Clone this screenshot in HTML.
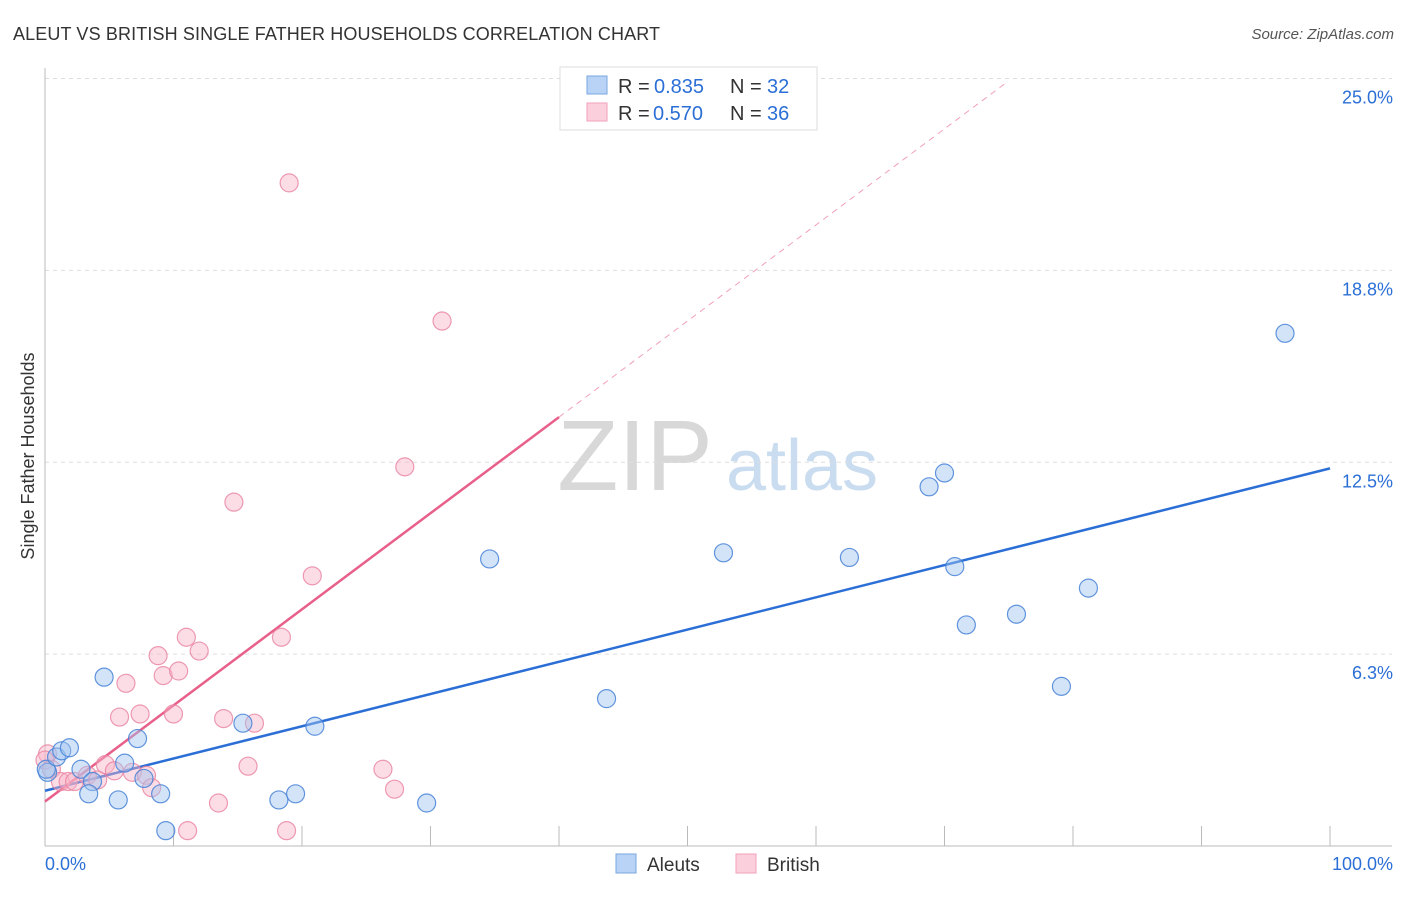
<!DOCTYPE html>
<html><head><meta charset="utf-8"><style>
body{margin:0;background:#fff;font-family:"Liberation Sans",sans-serif}
svg text{font-family:"Liberation Sans",sans-serif}
</style></head><body>
<svg id="c" width="1406" height="892" xmlns="http://www.w3.org/2000/svg">
<text x="13" y="40" font-size="18" fill="#333" textLength="647">ALEUT VS BRITISH SINGLE FATHER HOUSEHOLDS CORRELATION CHART</text>
<text x="1394" y="39" font-size="15" fill="#555" font-style="italic" text-anchor="end">Source: ZipAtlas.com</text>
<text x="34" y="456" font-size="18" fill="#333" text-anchor="middle" transform="rotate(-90 34 456)">Single Father Households</text>
<g><text x="635" y="490" font-size="100" fill="#d8d8d8" font-family="Liberation Serif" text-anchor="middle">ZIP</text><text x="802" y="490" font-size="72" fill="#c9dcf0" text-anchor="middle">atlas</text></g>
<g id="grid"></g><g id="axes"></g><g id="lines"></g><g id="pts"></g>
<g>
<rect x="560" y="67" width="257" height="63" fill="#fff" stroke="#ddd"/>
<rect x="587" y="76" width="20" height="18" fill="#b8d3f5" stroke="#7aa7e0"/>
<text x="618" y="93" font-size="20" fill="#333">R =</text><text x="654" y="93" font-size="20" fill="#2b6fd6">0.835</text>
<text x="730" y="93" font-size="20" fill="#333">N =</text><text x="767" y="93" font-size="20" fill="#2b6fd6">32</text>
<rect x="587" y="103" width="20" height="18" fill="#fbd0dc" stroke="#f0a0b8"/>
<text x="618" y="120" font-size="20" fill="#333">R =</text><text x="653" y="120" font-size="20" fill="#2b6fd6">0.570</text>
<text x="730" y="120" font-size="20" fill="#333">N =</text><text x="767" y="120" font-size="20" fill="#2b6fd6">36</text>
</g>
<g>
<rect x="616" y="854" width="20" height="19" fill="#b8d3f5" stroke="#7aa7e0"/><text x="647" y="871" font-size="19" fill="#333">Aleuts</text>
<rect x="736" y="854" width="20" height="19" fill="#fbd0dc" stroke="#f0a0b8"/><text x="767" y="871" font-size="19" fill="#333">British</text>
</g>
</svg>
<script>
const yTicks=[25,18.75,12.5,6.25];
const yTickLabels=["25.0%","18.8%","12.5%","6.3%"];
const aleutX=[0.2,0.1,0.9,1.3,1.9,2.8,3.7,3.4,4.6,5.7,6.2,7.2,7.7,9.0,9.4,15.4,18.2,19.5,21.0,29.7,34.6,43.7,52.8,62.6,68.8,70.0,70.8,71.7,75.6,79.1,81.2,96.5];
const aleutY=[2.4,2.5,2.9,3.1,3.2,2.5,2.1,1.7,5.5,1.5,2.7,3.5,2.2,1.7,0.5,4.0,1.5,1.7,3.9,1.4,9.35,4.8,9.55,9.4,11.7,12.15,9.1,7.2,7.55,5.2,8.4,16.7];
const britX=[0.2,0,0.5,1.2,1.8,2.3,3.3,4.1,4.7,5.4,5.8,6.3,6.8,7.4,7.9,8.3,8.8,9.2,10.0,10.4,11.0,12.0,13.5,13.9,14.7,15.8,16.3,18.4,18.8,19.0,20.8,26.3,27.2,28.0,30.9,11.1];
const britY=[3.0,2.8,2.5,2.1,2.1,2.1,2.3,2.15,2.65,2.45,4.2,5.3,2.4,4.3,2.3,1.9,6.2,5.55,4.3,5.7,6.8,6.35,1.4,4.15,11.2,2.6,4.0,6.8,0.5,21.6,8.8,2.5,1.85,12.35,17.1,0.5];
const aleutLine=[1.8,12.3];
const britLine=[1.45,0.313];
const X=v=>45+v*12.85, Y=v=>846-v*30.7;
const NS="http://www.w3.org/2000/svg";
function mk(t,a,p){const e=document.createElementNS(NS,t);for(const k in a)e.setAttribute(k,a[k]);p.appendChild(e);return e;}
const g=document.getElementById('grid'),ax=document.getElementById('axes'),ln=document.getElementById('lines'),pts=document.getElementById('pts');
yTicks.forEach((v,i)=>{
 const l=mk('line',{x1:45,x2:1392,y1:Y(v),y2:Y(v),stroke:'#ddd','stroke-dasharray':'4,4'},g);
 
 
 const t=mk('text',{x:1393,y:Y(v)+25,'font-size':18,fill:'#2b6fd6','text-anchor':'end'},g);t.textContent=yTickLabels[i];
 
 
});
let a=mk('line',{x1:45,x2:45,y1:68,y2:846,stroke:'#bbb'},ax);


a=mk('line',{x1:45,x2:1392,y1:846,y2:846,stroke:'#bbb'},ax);


for(let k=1;k<=10;k++){const t=mk('line',{x1:X(k*10),x2:X(k*10),y1:826,y2:846,stroke:'#bbb'},ax);
 
 }
let t=mk('text',{x:45,y:870,'font-size':18,fill:'#2b6fd6'},ax);t.textContent='0.0%';


t=mk('text',{x:1393,y:870,'font-size':18,fill:'#2b6fd6','text-anchor':'end'},ax);t.textContent='100.0%';


function dot(x,y,f,s,n){const c=mk('circle',{cx:X(x),cy:Y(y),r:9,fill:f,stroke:s,'stroke-width':1.2},pts);
 
 }
britX.forEach((x,i)=>dot(x,britY[i],'rgba(248,180,200,0.45)','rgba(232,130,160,0.8)','british-point'));
aleutX.forEach((x,i)=>dot(x,aleutY[i],'rgba(160,195,240,0.45)','rgba(70,130,215,0.85)','aleut-point'));
let L=mk('line',{x1:X(0),y1:Y(aleutLine[0]),x2:X(100),y2:Y(aleutLine[1]),stroke:'#2b6fd6','stroke-width':2.5},ln);


L=mk('line',{x1:X(0),y1:Y(britLine[0]),x2:X(40),y2:Y(britLine[0]+40*britLine[1]),stroke:'#e8608a','stroke-width':2.5},ln);


L=mk('line',{x1:X(40),y1:Y(britLine[0]+40*britLine[1]),x2:X(74.7),y2:Y(britLine[0]+74.7*britLine[1]),stroke:'#f0a0b8','stroke-width':1,'stroke-dasharray':'6,5'},ln);


</script>
</body></html>
